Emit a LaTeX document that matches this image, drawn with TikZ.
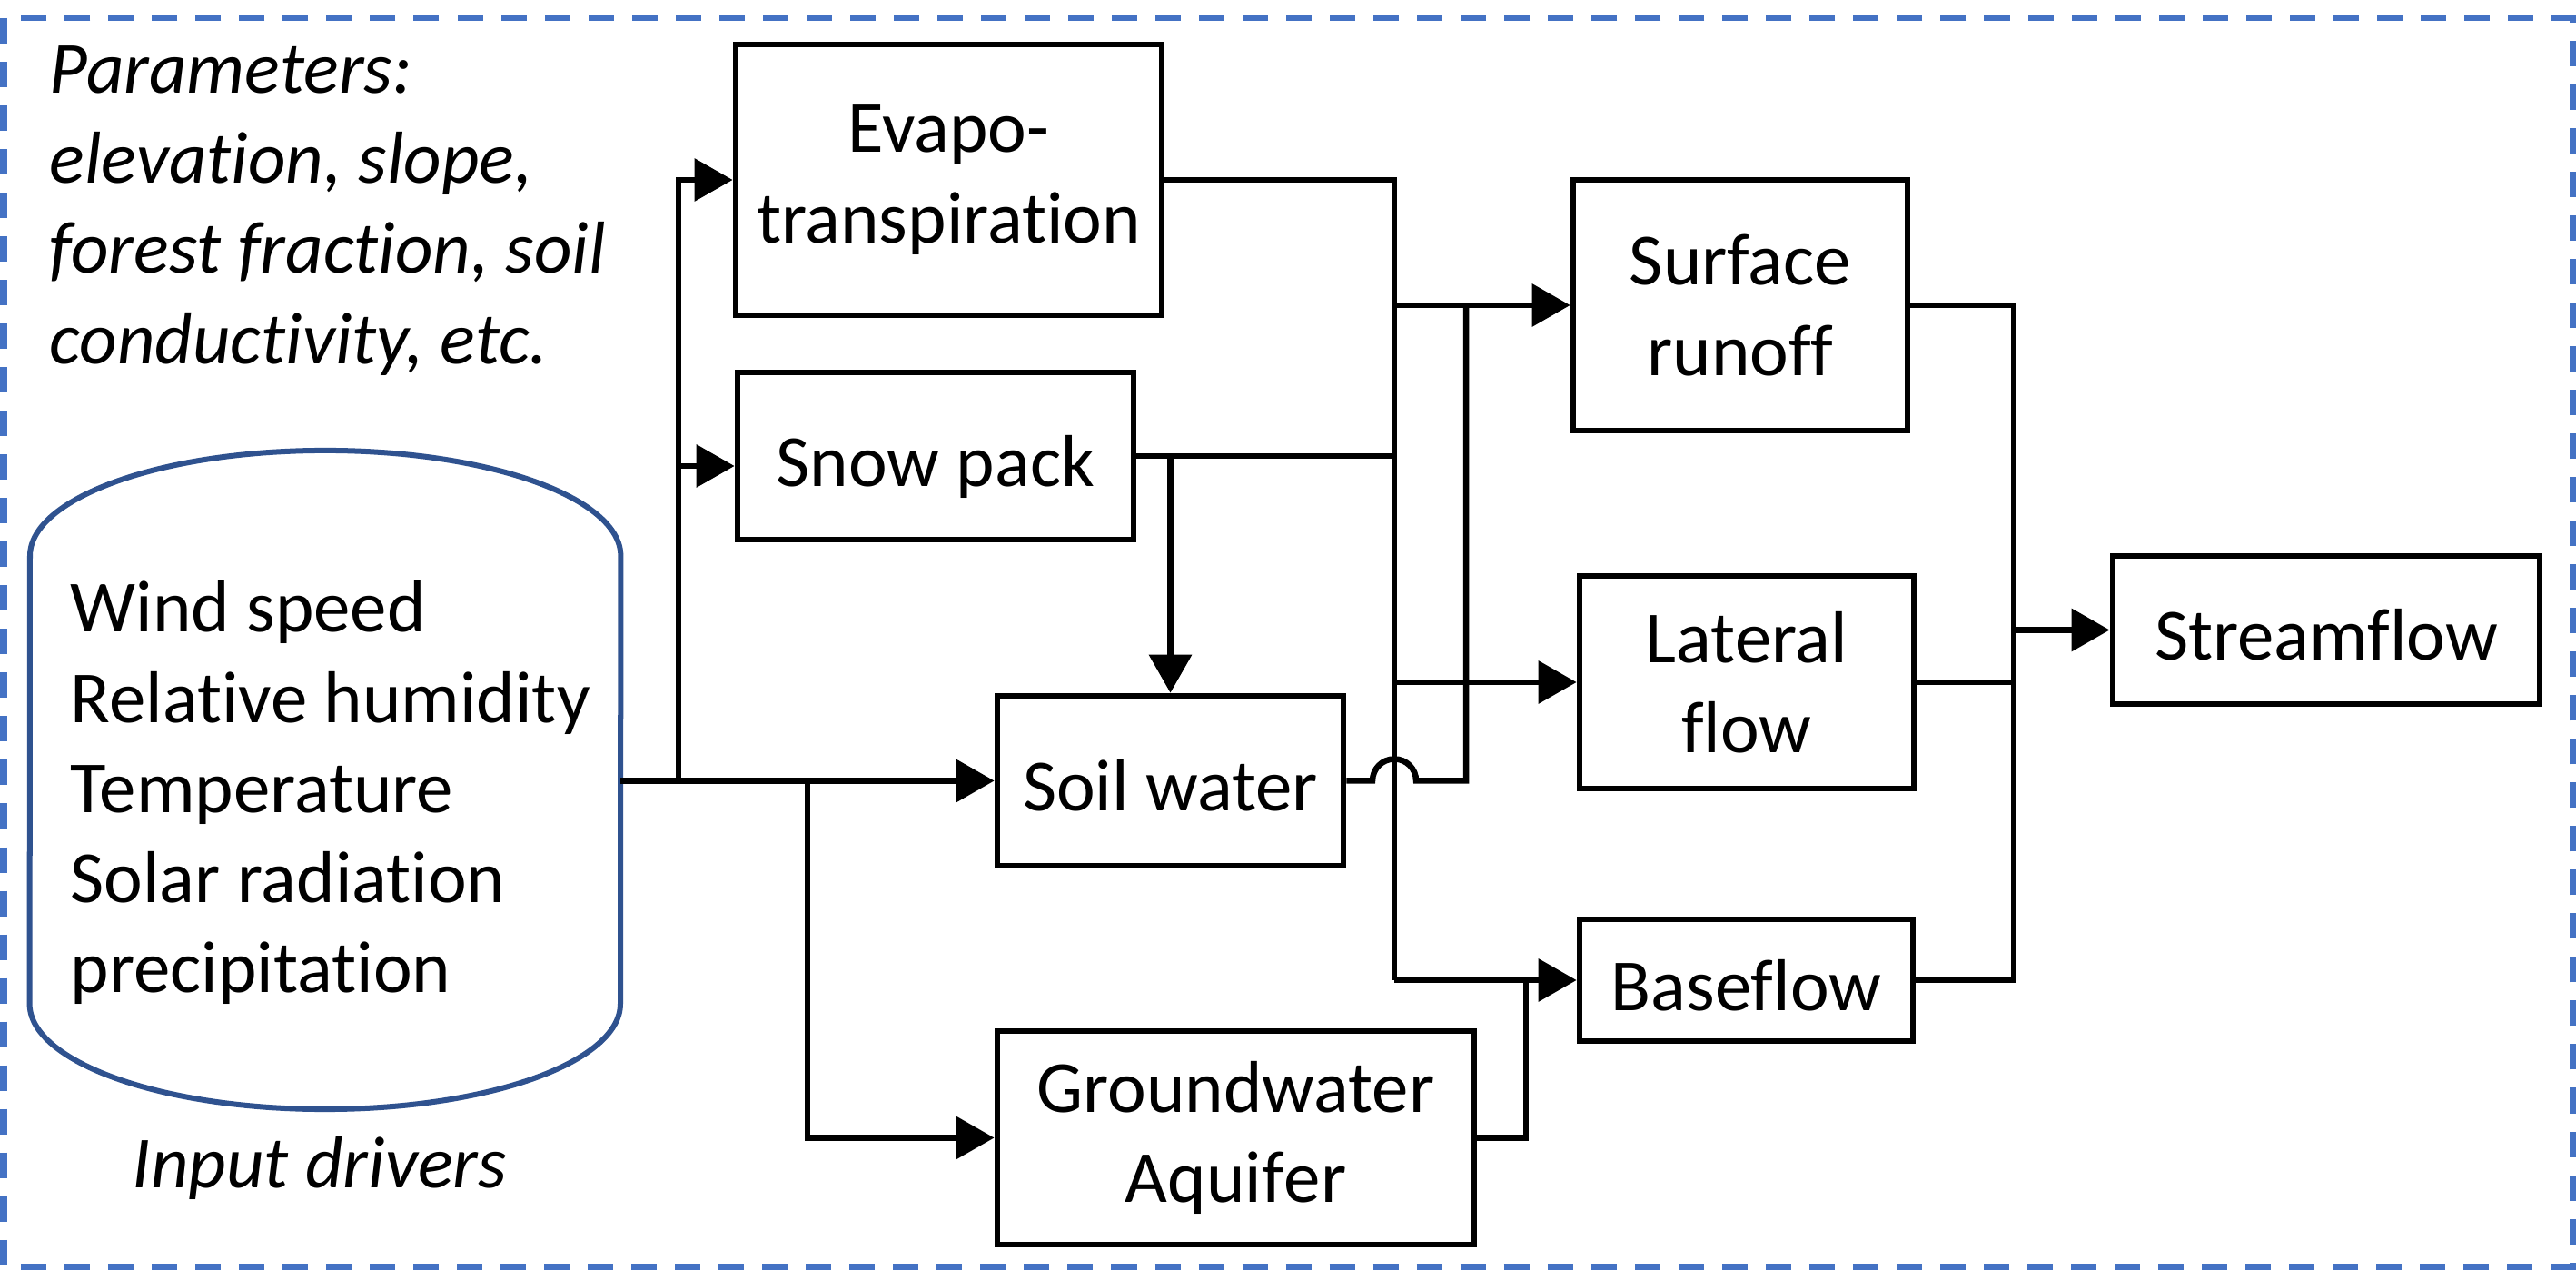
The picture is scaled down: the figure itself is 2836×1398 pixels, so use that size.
\documentclass[tikz,border=0pt]{standalone}
\usepackage{fontspec}
\setmainfont{Carlito}[RawFeature={-liga;-clig;-calt;-dlig}]
\newcommand{\zk}{\kern0pt\relax}
\usetikzlibrary{arrows.meta}
\definecolor{bordblue}{HTML}{4472C4}
\definecolor{canblue}{HTML}{2F528F}
\begin{document}
\begin{tikzpicture}[x=0.01cm,y=-0.01cm,
  txt/.style={font=\fontsize{23}{28.2}\selectfont, inner sep=0pt},
  box/.style={txt, draw=black, line width=0.065cm, align=center},
  one/.style={text height=0.75cm, text depth=0.09cm},
  ln/.style={draw=black, line width=0.065cm},
  arr/.style={ln, -{Triangle[length=0.42cm,width=0.46cm]}},
]
\useasboundingbox (0,0) rectangle (2836,1398);
% frame
\draw[bordblue, line width=0.07cm, dash pattern=on 0.28cm off 0.2cm] (4,20) rectangle (2832,1394);

% texts
\node[txt, font=\fontsize{23}{28.2}\selectfont\itshape, anchor=north west, align=left] (params) at (54,50)
  {Parameters:\\elevat\zk ion, slope,\\forest fract\zk ion, soil\\conduct\zk ivity, etc.};

% can
\draw[canblue, line width=0.06cm] (33,612) arc[start angle=180, end angle=0, x radius=3.25cm, y radius=1.16cm]
  -- (683,1105) arc[start angle=0, end angle=-180, x radius=3.25cm, y radius=1.16cm] -- cycle;
\node[txt, anchor=north west, align=left] (inputs) at (77,639)
  {Wind speed\\Relat\zk ive humidity\\Temperature\\Solar radiat\zk ion\\precipitat\zk ion};
\node[txt, font=\fontsize{23}{28.2}\selectfont\itshape, anchor=base] (drivers) at (352,1307) {Input drivers};

% boxes
\node[box, minimum width=4.69cm, minimum height=2.98cm] (evapo) at (1044.5,198) {Evapo-\\transpirat\zk ion};
\node[box, one, minimum width=4.36cm, minimum height=1.84cm] (snow) at (1030,502) {Snow pack};
\node[box, one, minimum width=3.81cm, minimum height=1.87cm] (soil) at (1288.5,859.5) {Soil water};
\node[box, minimum width=5.25cm, minimum height=2.35cm] (gw) at (1360.5,1252.5) {Groundwater\\Aquif\zk er};
\node[box, minimum width=3.68cm, minimum height=2.76cm] (surf) at (1916,336) {Surface\\runof\zk f};
\node[box, minimum width=3.68cm, minimum height=2.34cm] (lat) at (1923,751) {Lateral\\f\zk low};
\node[box, one, minimum width=3.67cm, minimum height=1.34cm] (base) at (1922.5,1079) {Basef\zk low};
\node[box, one, minimum width=4.70cm, minimum height=1.63cm] (stream) at (2561,693.5) {Streamf\zk low};

% junction coordinates
\coordinate (cylR) at (683,859.5);
\coordinate (jIn) at (747,859.5);
\coordinate (jEv) at (747,198);
\coordinate (jSn) at (747,513);
\coordinate (jGw) at (889,859.5);
\coordinate (vBot) at (1535,1079);
\coordinate (hopA) at (1511,859.5);
\coordinate (vB) at (1614,859.5);
\coordinate (vBtop) at (1614,336);
\coordinate (gwUp) at (1680,1079);
\coordinate (colTop) at (2217,336);
\coordinate (colBot) at (2217,1079);
\coordinate (colMid) at (2217,693.5);

% left connectors
\draw[arr] (cylR) -- (soil.west);
\draw[arr] (jIn) -- (jEv) -- (evapo.west);
\draw[arr] (jSn) -- (jSn -| snow.west);
\draw[arr] (jGw) |- (gw.west);

% middle connectors
\draw[ln] (evapo.east) -| (vBot);
\draw[ln] (snow.east) -- (snow.east -| vBot);
\draw[arr] (soil.north |- snow.east) -- (soil.north);
\draw[arr] (vBot |- surf.west) -- (surf.west);
\draw[arr] (vBot |- lat.west) -- (lat.west);
\draw[arr] (vBot) -- (base.west);
\draw[ln] (soil.east) -- (hopA) arc[start angle=180, end angle=0, radius=0.24cm] -- (vB) -- (vBtop);
\draw[ln] (gw.east) -| (gwUp);

% right connectors
\draw[ln] (surf.east) -- (colTop) -- (colBot) -- (base.east);
\draw[ln] (lat.east) -- (lat.east -| colTop);
\draw[arr] (colMid) -- (stream.west);
\end{tikzpicture}
\end{document}
